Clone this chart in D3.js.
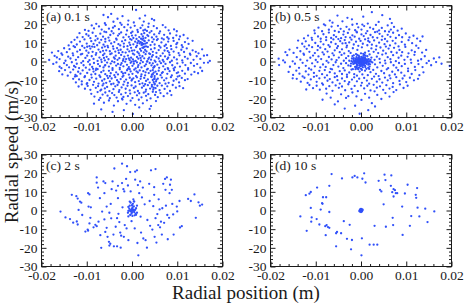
<!DOCTYPE html>
<html>
<head>
<meta charset="utf-8">
<script src="https://cdn.jsdelivr.net/npm/d3@7"></script>
<style>
  body { margin: 0; background: #fff; }
  svg { display: block; font-family: "Liberation Serif", "Times New Roman", serif; }
</style>
</head>
<body>
<svg id="chart" width="464" height="306"></svg>
<script>
// axis ticks
const xTicks = [-0.02, -0.01, 0, 0.01, 0.02];
const yTicks = [-30, -20, -10, 0, 10, 20, 30];
const panelLabels = ["(a) 0.1 s", "(b) 0.5 s", "(c) 2 s", "(d) 10 s"];

// [radial position in mm, radial speed in m/s]
const ptsA = [
  [-4.6,25.5],[0.9,27.6],[2.9,24.6],[-2.1,24.3],[-6.3,24.9],
  [4.4,22.8],[4.9,22.1],[-7.9,20.2],[-6.0,20.5],[-4.1,21.3],[-2.6,20.7],[1.7,23.1],[-3.2,22.9],[0.4,20.9],[2.6,21.4],[-5.3,23.7],[-0.8,21.9],[3.7,20.3],
  [-7.3,18.8],[-5.8,19.6],[0.6,19.1],[-1.7,18.4],[-9.6,16.4],[-8.4,17.7],[-6.7,17.1],[-4.5,16.2],[-3.8,18.9],[-2.9,17.3],[-1.1,16.6],[-0.3,18.2],[1.2,16.9],[2.3,19.4],[2.9,17.0],[3.6,18.5],[4.3,16.3],[5.5,17.8],[6.2,16.1],[7.4,18.3],[8.1,16.7],[9.3,17.2],[-5.1,17.6],[-8.9,19.3],[1.9,18.0],[3.3,16.4],[6.8,19.5],[-2.3,19.7],[0.1,16.0],[4.8,19.0],[-10.4,16.9],[-6.1,16.0],[-4.2,18.1],[9.9,16.2],[2.5,16.6],[-0.9,19.8],
  [-11.6,15.2],[-10.9,13.1],[-10.1,14.6],[-9.2,12.5],[-8.7,15.4],[-8.0,13.6],[-7.6,12.2],[-7.0,14.9],[-6.4,13.3],[-5.7,15.7],[-5.2,12.8],[-4.8,14.2],[-4.1,15.1],[-3.5,12.3],[-3.1,13.9],[-2.4,15.6],[-1.9,12.9],[-1.3,14.4],[-0.7,13.2],[-0.2,15.3],[0.3,12.6],[0.8,14.0],[1.3,15.8],[1.6,13.1],[2.0,12.2],[2.1,14.6],[2.4,13.5],[2.7,15.2],[3.0,12.7],[3.4,14.1],[3.9,15.5],[4.4,12.9],[4.9,14.5],[5.4,13.3],[6.0,15.1],[6.6,12.4],[7.1,14.3],[7.8,13.0],[8.4,15.0],[9.1,12.6],[9.8,14.0],[10.6,13.4],[11.4,14.2],[12.3,12.4],[-12.1,12.9],[-9.6,13.8],[-5.9,12.1],[-2.8,14.8],[0.0,13.9],[1.0,12.1],[2.5,12.4],[3.6,13.6],[5.7,12.0],[8.1,12.2],[-0.4,12.0],
  [-14.0,8.6],[-13.4,10.3],[-12.7,11.6],[-12.2,9.1],[-11.5,10.7],[-11.0,8.3],[-10.5,11.8],[-10.0,9.6],[-9.4,8.2],[-9.0,10.9],[-8.5,9.4],[-8.1,11.3],[-7.7,8.7],[-7.2,10.1],[-6.8,11.6],[-6.3,9.0],[-5.9,10.6],[-5.4,8.4],[-5.0,11.2],[-4.6,9.7],[-4.2,8.1],[-3.9,10.4],[-3.4,11.7],[-3.0,9.3],[-2.6,8.6],[-2.2,10.8],[-1.8,9.6],[-1.5,11.4],[-1.0,8.2],[-0.6,10.1],[-0.1,11.6],[0.3,9.2],[0.7,10.6],[1.1,8.5],[1.4,11.1],[1.7,9.7],[1.9,10.4],[2.1,8.9],[2.3,11.7],[2.6,9.4],[2.8,10.9],[3.1,8.1],[3.3,10.0],[3.7,11.3],[4.1,8.8],[4.5,10.5],[5.0,9.1],[5.5,11.5],[6.0,8.4],[6.5,10.2],[7.0,11.8],[7.5,9.0],[8.0,10.7],[8.6,8.3],[9.2,11.0],[9.8,9.3],[10.4,11.9],[11.0,8.7],[11.7,10.4],[12.5,9.4],[13.4,11.1],[-6.0,8.0],[-0.4,8.9],[4.8,11.9],[7.2,8.3],[-8.8,8.0],[2.2,9.9],[1.2,9.9],[-12.9,8.2],[10.0,10.0],
  [-16.3,5.6],[-15.6,4.3],[-15.0,7.1],[-14.4,5.0],[-13.8,6.6],[-13.1,4.4],[-12.6,7.7],[-12.1,5.3],[-11.5,6.2],[-11.0,4.1],[-10.5,7.3],[-10.1,5.8],[-9.6,4.7],[-9.2,6.9],[-8.7,5.2],[-8.3,7.8],[-7.9,4.5],[-7.4,6.4],[-7.0,5.1],[-6.6,7.4],[-6.1,4.2],[-5.7,6.0],[-5.3,7.6],[-4.9,5.5],[-4.5,4.3],[-4.1,6.8],[-3.7,5.3],[-3.3,7.2],[-2.9,4.6],[-2.5,6.3],[-2.1,5.0],[-1.8,7.9],[-1.4,4.8],[-1.0,6.5],[-0.6,5.4],[-0.2,7.3],[0.2,4.2],[0.5,6.0],[0.9,7.7],[1.2,5.1],[1.5,4.4],[1.8,6.7],[2.0,5.7],[2.3,7.4],[2.6,4.9],[2.9,6.2],[3.2,5.4],[3.5,7.8],[3.8,4.3],[4.2,6.5],[4.6,5.2],[5.0,7.1],[5.4,4.6],[5.9,6.1],[6.3,7.5],[6.8,4.4],[7.2,5.9],[7.7,7.2],[8.2,4.8],[8.7,6.6],[9.2,5.3],[9.8,7.6],[10.3,4.5],[10.9,6.3],[11.5,5.1],[12.1,7.0],[12.8,4.2],[13.4,6.0],[14.1,5.2],[14.7,4.4],[15.5,6.5],[-17.7,4.8],[-6.4,5.7],[0.0,5.8],[4.0,4.0],[-3.0,6.0],[2.7,7.9],[7.9,5.6],[-9.9,7.9],[11.2,7.7],
  [-18.3,0.8],[-17.1,3.0],[-16.6,2.2],[-16.0,1.3],[-15.4,3.6],[-14.7,0.4],[-14.1,2.6],[-13.6,1.6],[-13.0,3.3],[-12.4,0.9],[-11.9,2.3],[-11.3,3.8],[-10.8,0.2],[-10.3,1.9],[-9.9,3.1],[-9.4,0.7],[-8.9,2.8],[-8.5,1.4],[-8.0,3.6],[-7.6,0.3],[-7.2,2.1],[-6.8,1.0],[-6.4,3.4],[-6.0,0.6],[-5.6,2.5],[-5.2,1.2],[-4.8,3.9],[-4.4,0.1],[-4.0,2.2],[-3.6,3.1],[-3.2,0.9],[-2.8,1.8],[-2.4,3.5],[-2.0,0.4],[-1.7,2.6],[-1.3,1.3],[-0.9,3.2],[-0.5,0.7],[-0.2,2.0],[0.2,1.1],[0.5,3.7],[0.8,0.3],[1.1,2.4],[1.4,1.5],[1.7,3.3],[2.0,0.6],[2.3,2.8],[2.7,1.7],[3.0,3.9],[3.4,0.2],[3.8,2.1],[4.2,1.0],[4.6,3.4],[5.0,0.5],[5.4,2.4],[5.9,1.6],[6.3,3.0],[6.8,0.8],[7.3,2.7],[7.8,1.3],[8.3,3.5],[8.8,0.4],[9.3,2.2],[9.9,1.1],[10.5,3.3],[11.1,0.6],[11.7,2.5],[12.3,1.5],[12.9,3.6],[13.6,0.9],[14.3,2.8],[15.1,1.4],[15.9,3.1],[16.6,3.4],[17.2,0.3],[-0.7,1.6],[0.4,0.0],[1.9,1.9],[3.6,1.4],[-1.9,1.3],[4.4,2.6],[-3.8,1.5],[6.1,0.1],[-6.2,1.9],[8.0,2.0],
  [-17.4,-1.3],[-16.7,-0.5],[-16.0,-2.8],[-15.6,-3.6],[-15.0,-0.9],[-14.4,-1.9],[-13.9,-3.1],[-13.3,-0.4],[-12.8,-2.4],[-12.2,-1.2],[-11.7,-3.5],[-11.2,-0.7],[-10.7,-2.0],[-10.2,-3.3],[-9.7,-0.2],[-9.3,-1.6],[-8.8,-2.9],[-8.4,-0.8],[-7.9,-3.8],[-7.5,-1.4],[-7.1,-2.5],[-6.7,-0.3],[-6.3,-3.2],[-5.9,-1.9],[-5.5,-0.6],[-5.1,-2.7],[-4.7,-1.1],[-4.3,-3.6],[-3.9,-0.4],[-3.5,-2.2],[-3.1,-1.3],[-2.7,-3.4],[-2.3,-0.9],[-1.9,-2.6],[-1.5,-0.1],[-1.1,-1.8],[-0.7,-3.0],[-0.3,-0.7],[0.1,-2.3],[0.4,-1.2],[0.8,-3.7],[1.1,-0.5],[1.4,-2.0],[1.8,-1.0],[2.1,-3.2],[2.4,-0.3],[2.8,-2.4],[3.1,-1.5],[3.5,-3.9],[3.9,-0.8],[4.3,-2.1],[4.6,-1.0],[4.9,-3.0],[5.2,-0.2],[5.6,-1.7],[6.0,-3.4],[6.4,-0.9],[6.9,-2.6],[7.4,-1.3],[7.9,-3.5],[8.4,-0.4],[8.9,-2.0],[9.5,-3.1],[10.0,-1.0],[10.6,-2.7],[11.2,-0.6],[11.8,-1.9],[12.4,-3.6],[13.0,-0.8],[13.7,-2.3],[14.4,-1.4],[15.1,-3.3],[15.9,-0.7],[16.8,-0.6],[-0.1,-0.1],[1.3,-3.0],[-2.5,-1.8],[3.3,-0.1],[5.0,-2.5],[-6.0,-2.2],[7.0,-0.1],[-8.6,-3.9],[-12.5,-3.0],[9.2,-3.8],[-0.9,-3.9],
  [-16.1,-5.2],[-15.4,-6.9],[-14.8,-4.6],[-14.2,-7.6],[-13.6,-5.8],[-13.0,-4.3],[-12.5,-7.2],[-11.9,-5.5],[-11.4,-6.5],[-10.9,-4.8],[-10.4,-7.9],[-9.9,-6.1],[-9.4,-4.4],[-9.0,-7.0],[-8.5,-5.4],[-8.1,-6.7],[-7.6,-4.1],[-7.2,-7.5],[-6.8,-5.7],[-6.3,-4.9],[-5.9,-6.8],[-5.5,-7.7],[-5.1,-5.0],[-4.7,-6.3],[-4.3,-4.5],[-3.9,-7.3],[-3.5,-5.8],[-3.1,-6.9],[-2.7,-4.2],[-2.3,-5.6],[-1.9,-7.6],[-1.5,-6.1],[-1.1,-4.7],[-0.7,-7.0],[-0.3,-5.3],[0.1,-6.6],[0.5,-4.4],[0.9,-7.8],[1.3,-5.9],[1.7,-4.8],[2.1,-6.9],[2.5,-5.2],[2.9,-7.4],[3.3,-4.3],[3.7,-6.2],[4.1,-5.0],[4.4,-7.1],[4.6,-4.6],[4.8,-6.0],[5.0,-7.8],[5.2,-5.4],[5.5,-6.7],[5.9,-4.9],[6.3,-7.3],[6.8,-5.7],[7.3,-4.2],[7.8,-6.6],[8.3,-5.2],[8.8,-7.5],[9.3,-4.7],[9.9,-6.2],[10.5,-7.7],[11.1,-5.0],[11.7,-6.5],[12.4,-4.4],[13.1,-7.0],[13.8,-5.6],[14.6,-6.3],[15.5,-5.1],[-12.2,-7.8],[-0.5,-4.1],[3.0,-5.8],[6.6,-6.2],[-4.9,-7.9],[8.0,-4.0],[-8.0,-4.6],[1.0,-5.3],[-2.0,-6.4],[4.3,-8.0],[10.2,-5.8],
  [-13.0,-9.3],[-12.4,-11.2],[-11.7,-9.6],[-11.1,-10.7],[-10.5,-8.4],[-9.9,-11.6],[-9.4,-9.9],[-8.9,-8.6],[-8.4,-10.9],[-7.9,-9.2],[-7.4,-11.8],[-7.0,-8.3],[-6.6,-10.3],[-6.1,-9.5],[-5.7,-11.4],[-5.3,-8.9],[-4.9,-10.6],[-4.5,-9.1],[-4.1,-11.9],[-3.7,-8.4],[-3.3,-10.0],[-2.9,-11.3],[-2.5,-9.4],[-2.1,-8.2],[-1.7,-10.8],[-1.3,-9.7],[-0.9,-11.5],[-0.5,-8.7],[-0.1,-10.2],[0.3,-9.0],[0.7,-11.1],[1.1,-8.5],[1.5,-10.5],[1.9,-9.3],[2.3,-11.7],[2.7,-8.8],[3.1,-10.4],[3.5,-9.6],[3.9,-11.3],[4.3,-8.3],[4.6,-9.9],[4.8,-11.0],[5.0,-8.9],[5.3,-10.7],[5.7,-9.2],[6.1,-11.6],[6.6,-8.6],[7.1,-10.1],[7.6,-9.0],[8.1,-11.4],[8.6,-8.4],[9.2,-10.3],[9.8,-9.5],[10.4,-11.2],[11.0,-8.8],[11.7,-10.0],[12.3,-9.4],[-12.6,-8.1],[-6.3,-11.9],[0.0,-9.6],[4.9,-9.4],[2.0,-8.0],[-3.0,-10.9],[7.4,-11.9],[10.1,-8.1],
  [-11.8,-13.4],[-11.1,-12.3],[-10.4,-14.6],[-9.8,-13.1],[-9.2,-15.2],[-8.6,-12.5],[-8.0,-14.1],[-7.5,-13.2],[-7.0,-15.6],[-6.5,-12.8],[-6.0,-14.4],[-5.5,-13.6],[-5.0,-15.9],[-4.6,-12.2],[-4.1,-14.8],[-3.7,-13.3],[-3.2,-12.6],[-2.8,-15.3],[-2.3,-13.9],[-1.9,-12.4],[-1.4,-14.6],[-1.0,-13.0],[-0.5,-15.5],[-0.1,-12.8],[0.4,-14.2],[0.8,-13.4],[1.3,-15.8],[1.7,-12.1],[2.2,-14.0],[2.6,-13.1],[3.1,-15.1],[3.5,-12.7],[4.0,-14.5],[4.4,-13.5],[4.7,-15.0],[5.0,-12.3],[5.2,-14.3],[5.6,-13.0],[6.1,-15.4],[6.6,-12.9],[7.2,-14.7],[7.8,-13.3],[8.4,-15.8],[9.0,-12.6],[9.7,-14.0],[10.5,-13.2],[11.3,-14.3],[-10.0,-12.0],[2.9,-12.2],[-6.8,-15.1],
  [-9.0,-17.3],[-8.3,-18.8],[-7.6,-16.4],[-7.0,-19.5],[-6.5,-17.7],[-5.9,-16.6],[-5.4,-18.3],[-4.9,-19.7],[-4.4,-16.9],[-3.9,-18.0],[-3.4,-19.3],[-2.9,-16.3],[-2.4,-17.6],[-1.9,-19.0],[-1.4,-16.8],[-0.9,-18.5],[-0.4,-17.2],[0.1,-19.6],[0.6,-16.5],[1.1,-18.1],[1.6,-17.0],[2.1,-19.2],[2.6,-16.7],[3.1,-18.4],[3.6,-17.5],[4.1,-19.8],[4.6,-16.2],[5.1,-17.9],[5.7,-19.1],[6.3,-16.9],[7.0,-18.6],[7.8,-17.1],[8.7,-18.0],[-2.2,-19.9],[3.0,-16.1],
  [-7.3,-20.6],[-6.2,-22.1],[-5.1,-20.9],[-4.0,-23.6],[-3.1,-21.3],[-2.1,-20.4],[-1.2,-22.7],[-0.3,-21.0],[0.7,-23.2],[1.5,-20.5],[2.4,-22.4],[3.3,-20.8],[4.2,-23.9],[5.3,-21.2],[-8.4,-22.6],
  [-6.8,-25.7],[-4.3,-27.0],[-1.8,-26.1],[0.2,-28.1],[1.6,-24.6],[3.9,-25.4],
  // slightly denser streak near +5 mm and clump near +2 mm
  [4.7,-3.4],[4.6,-6.8],[5.4,-9.8],[5.0,-11.9],[4.8,-14.0],[5.3,-16.4],[4.4,-12.6],
  [2.3,9.1],[2.7,11.2],[2.5,7.3],[1.5,10.8],[3.0,9.6]
];

const ptsB = [
  [2.4,26.4],[-5.2,24.6],[0.5,24.0],[-6.9,21.9],[6.4,22.8],[-6.3,20.8],[-4.1,21.5],[-2.0,22.6],[1.5,20.3],[3.9,21.2],[6.8,20.6],[-0.9,20.2],[-3.0,23.4],[4.7,24.8],
  [-10.3,16.6],[-9.4,18.1],[-8.6,16.2],[-7.9,19.4],[-7.1,17.0],[-6.5,18.7],[-5.8,16.4],[-5.1,19.1],[-4.5,17.5],[-3.8,16.1],[-3.2,18.6],[-2.6,17.2],[-1.9,19.7],[-1.3,16.8],[-0.6,18.3],[0.1,17.1],[0.7,19.0],[1.4,16.3],[2.0,18.2],[2.7,17.4],[3.3,19.6],[4.0,16.7],[4.6,18.0],[5.3,16.2],[5.9,19.3],[6.6,17.1],[7.3,18.5],[8.1,16.5],[9.0,17.6],[-8.2,19.9],[3.6,16.0],[-1.0,16.0],[6.2,16.0],[0.3,19.8],
  [-12.6,12.4],[-11.7,13.9],[-10.9,12.7],[-10.2,15.1],[-9.5,13.4],[-8.9,12.2],[-8.3,14.6],[-7.7,13.0],[-7.1,15.5],[-6.6,12.6],[-6.0,14.1],[-5.5,13.2],[-4.9,15.8],[-4.4,12.5],[-3.9,14.4],[-3.4,13.1],[-2.9,15.3],[-2.4,12.8],[-1.9,14.0],[-1.4,13.3],[-0.9,15.6],[-0.4,12.2],[0.1,14.5],[0.6,13.6],[1.1,15.1],[1.6,12.4],[2.1,14.2],[2.6,13.0],[3.1,15.7],[3.6,12.7],[4.1,14.8],[4.7,13.5],[5.3,12.1],[5.9,14.3],[6.5,13.2],[7.1,15.4],[7.7,12.6],[8.4,14.1],[9.1,13.0],[9.9,15.0],[10.7,12.9],[11.6,13.8],[12.4,12.3],[13.6,13.4],[-5.0,12.0],
  [-13.9,11.2],[-13.0,9.5],[-12.2,10.8],[-11.5,8.6],[-10.8,11.6],[-10.1,9.9],[-9.5,8.3],[-8.9,10.7],[-8.3,9.2],[-7.7,11.4],[-7.2,8.8],[-6.6,10.3],[-6.1,11.8],[-5.6,9.4],[-5.1,8.2],[-4.6,10.9],[-4.1,9.7],[-3.6,11.5],[-3.1,8.5],[-2.6,10.2],[-2.1,11.7],[-1.6,9.1],[-1.1,10.6],[-0.6,8.4],[-0.1,11.0],[0.4,9.5],[0.9,11.9],[1.4,8.7],[1.9,10.4],[2.4,9.0],[2.9,11.3],[3.4,8.3],[4.0,10.1],[4.6,11.6],[5.2,9.3],[5.8,10.8],[6.4,8.6],[7.0,11.1],[7.6,9.7],[8.3,8.1],[9.0,10.5],[9.7,9.0],[10.5,11.4],[11.3,9.8],[12.2,8.5],[13.1,10.9],[-12.5,8.0],[1.6,11.0],[-3.4,9.8],[5.5,8.0],
  [-16.7,5.0],[-15.8,6.4],[-14.9,4.6],[-14.1,7.3],[-13.4,5.5],[-12.7,4.2],[-12.0,6.8],[-11.4,5.2],[-10.8,7.7],[-10.2,4.5],[-9.6,6.1],[-9.0,7.4],[-8.5,4.9],[-7.9,6.6],[-7.4,5.3],[-6.9,7.9],[-6.3,4.4],[-5.8,6.0],[-5.3,7.2],[-4.7,5.0],[-4.2,6.5],[-3.7,4.3],[-3.2,7.6],[-2.7,5.6],[-2.3,4.6],[2.3,7.0],[2.8,5.2],[3.3,6.4],[3.8,4.5],[4.3,7.5],[4.9,5.8],[5.5,4.3],[6.1,6.9],[6.7,5.1],[7.3,7.3],[7.9,4.7],[8.5,6.2],[9.1,5.0],[9.8,7.8],[10.5,4.4],[11.2,6.0],[11.9,5.1],[12.7,7.2],[13.5,4.8],[14.4,6.2],[-1.8,7.1],[1.7,5.6],[0.2,7.6],[-0.8,6.2],[0.9,4.7],
  [-18.2,1.5],[-17.2,0.6],[-16.3,3.4],[-15.1,0.1],[-14.2,2.3],[-13.4,1.0],[-12.6,3.6],[-11.9,0.5],[-11.2,2.0],[-10.6,3.2],[-10.0,0.8],[-9.4,2.7],[-8.8,1.3],[-8.2,3.8],[-7.6,0.3],[-7.1,2.4],[-6.5,1.1],[-6.0,3.3],[-5.4,0.7],[-4.9,2.1],[-4.3,3.5],[-3.8,0.4],[-3.3,1.8],[-2.8,2.9],[3.0,0.9],[3.5,2.6],[4.1,1.4],[4.7,3.7],[5.3,0.5],[5.9,2.3],[6.5,1.2],[7.1,3.4],[7.7,0.2],[8.3,2.0],[8.9,3.1],[9.6,0.9],[10.3,2.5],[11.0,1.0],[11.8,3.6],[12.6,0.4],[13.3,1.2],[14.1,2.8],[15.0,0.3],[16.1,1.6],[17.3,2.2],
  [-18.1,-1.9],[-16.8,-0.5],[-15.7,-2.8],[-14.6,-1.2],[-13.7,-3.4],[-12.9,-0.7],[-12.2,-2.3],[-11.5,-3.7],[-10.8,-1.0],[-10.2,-2.6],[-9.6,-0.3],[-9.0,-3.1],[-8.4,-1.6],[-7.8,-2.9],[-7.2,-0.6],[-6.7,-3.9],[-6.1,-1.9],[-5.6,-0.4],[-5.0,-2.7],[-4.4,-1.2],[-3.9,-3.5],[-3.3,-0.9],[-2.8,-2.1],[3.1,-1.5],[3.6,-3.2],[4.2,-0.6],[4.8,-2.3],[5.4,-1.0],[6.0,-3.6],[6.6,-0.4],[7.2,-2.0],[7.8,-3.3],[8.4,-0.8],[9.0,-2.5],[9.7,-1.3],[10.4,-3.8],[11.1,-0.7],[11.9,-2.9],[12.7,-1.4],[13.6,-3.0],[14.5,-0.9],[15.5,-2.0],[16.6,-0.3],[17.8,-1.2],[19.6,-2.4],
  [-16.0,-5.6],[-15.0,-7.2],[-14.3,-4.9],[-13.6,-6.5],[-12.9,-8.0],[-12.2,-5.3],[-11.6,-7.0],[-11.0,-4.4],[-10.4,-6.1],[-9.8,-7.7],[-9.2,-5.0],[-8.6,-6.8],[-8.0,-4.6],[-7.5,-7.4],[-6.9,-5.7],[-6.4,-4.2],[-5.8,-6.4],[-5.3,-7.9],[-4.7,-5.2],[-4.2,-6.7],[-3.6,-4.8],[-3.1,-7.1],[-2.6,-5.9],[-2.1,-4.3],[-1.5,-6.8],[-0.9,-7.6],[-0.3,-5.4],[0.3,-6.9],[0.9,-4.9],[1.5,-7.3],[2.1,-5.7],[2.7,-4.5],[3.3,-6.6],[3.9,-7.8],[4.5,-5.1],[5.1,-6.3],[5.7,-4.2],[6.3,-7.5],[6.9,-5.5],[7.5,-6.9],[8.2,-4.7],[8.9,-6.0],[9.6,-7.6],[10.4,-5.2],[11.2,-6.7],[12.0,-4.6],[12.9,-7.3],[13.8,-5.8],[-1.2,-4.1],[1.8,-4.0],
  [-14.2,-9.3],[-13.3,-10.8],[-12.5,-8.7],[-11.8,-11.5],[-11.1,-9.6],[-10.4,-8.2],[-9.8,-10.9],[-9.2,-9.0],[-8.6,-11.7],[-8.0,-8.6],[-7.4,-10.3],[-6.9,-9.4],[-6.3,-11.2],[-5.8,-8.4],[-5.2,-10.0],[-4.7,-11.8],[-4.2,-9.1],[-3.6,-10.5],[-3.1,-8.3],[-2.6,-11.1],[-2.0,-9.7],[-1.5,-8.5],[-0.9,-10.6],[-0.4,-9.2],[0.2,-11.4],[0.7,-8.8],[1.3,-10.2],[1.8,-11.9],[2.4,-9.3],[2.9,-8.1],[3.5,-10.8],[4.1,-9.5],[4.7,-11.3],[5.3,-8.6],[5.9,-10.1],[6.5,-9.0],[7.1,-11.6],[7.8,-8.4],[8.5,-10.4],[9.2,-9.1],[10.0,-11.0],[10.8,-8.7],[11.7,-10.1],[12.6,-9.3],[-15.1,-9.0],
  [-11.4,-12.6],[-10.6,-14.3],[-9.8,-13.0],[-9.1,-15.1],[-8.4,-12.4],[-7.7,-14.6],[-7.0,-13.2],[-6.3,-15.7],[-5.6,-12.8],[-4.9,-14.1],[-4.2,-13.4],[-3.5,-15.4],[-2.8,-12.2],[-2.1,-14.7],[-1.4,-13.1],[-0.7,-15.9],[0.0,-12.9],[0.7,-14.4],[1.4,-13.0],[2.1,-15.5],[2.8,-12.5],[3.5,-14.0],[4.2,-13.3],[4.9,-15.2],[5.6,-12.7],[6.3,-14.5],[7.0,-13.6],[7.8,-15.3],[8.6,-12.3],[9.4,-14.2],[10.3,-13.0],[-12.1,-15.0],[3.0,-16.0],
  [-7.6,-17.2],[-6.7,-19.4],[-5.1,-21.4],[-4.4,-17.6],[-3.3,-19.5],[-2.8,-18.6],[-1.9,-16.6],[-1.0,-18.7],[0.1,-20.6],[0.9,-17.3],[1.8,-19.4],[2.4,-22.3],[3.6,-17.9],[4.5,-20.1],[5.4,-16.9],[6.3,-18.8],[7.2,-16.4],[-8.5,-20.5],
  [-1.3,-23.7],[3.1,-24.1],[-0.3,-28.0],[-3.6,-25.2],[1.6,-26.1],[-5.8,-23.0],
  // dense core
  [0.0,0.0],[0.2,0.5],[-0.3,-0.4],[0.5,-0.8],[-0.6,0.9],[0.8,0.3],[-0.9,-0.2],[0.3,1.4],[-0.2,-1.5],[1.1,-0.6],[-1.2,0.6],[0.6,1.9],[-0.7,-1.9],[1.3,1.1],[-1.4,-1.0],[0.1,2.5],[-0.1,-2.6],[1.6,-1.7],[-1.6,1.8],[0.9,-2.3],[-1.0,2.3],[1.8,0.2],[-1.8,-0.3],[0.4,-3.1],[-0.5,3.2],[1.4,2.8],[-1.3,-2.9],[1.9,-2.7],[-1.9,2.9],[0.7,3.6],[-0.8,-3.7],[1.2,-3.9],[-1.1,4.0],[0.0,4.4],[0.2,-4.5],[-0.4,0.2],[0.4,-0.2],[0.0,-0.7],[-0.1,0.8],[0.7,-1.3],[-0.7,1.3],[1.0,0.9],[-1.0,-0.9],[0.5,0.0],[-0.5,0.0],[0.2,-1.0],[-0.2,1.1],[1.5,-0.2],[-1.5,0.2],[0.9,1.6],[-0.9,-1.6],[0.3,2.1],[-0.3,-2.2],[1.2,-1.2],[-1.2,1.2],[0.6,-2.0],[-0.6,2.0],[1.7,1.3],[-1.7,-1.3],[0.1,-0.1],[0.3,0.3],[-0.3,-0.1],[0.8,-0.4],[-0.8,0.4],[0.4,0.9],[-0.4,-0.9],[2.1,0.9],[-2.2,-1.1],[2.0,-1.5],[-2.0,1.6],[1.0,3.1],[-1.0,-3.2],[1.6,-3.4],[-1.6,3.3],[2.3,2.1],[-2.3,-2.4],[0.5,4.1],[-0.6,-4.2],[2.5,-0.5],[-2.6,0.4],[1.9,3.8],[-1.8,-4.1],[0.0,1.7],[0.0,-1.8],[1.3,0.0],[-1.3,0.0],[0.6,0.6],[-0.6,-0.6],[0.9,-0.9],[-0.9,0.9],
  [0.15,0.35],[-0.25,0.65],[0.45,-0.35],[-0.55,-0.75],[0.75,1.05],[-0.15,-1.25],[0.35,-1.65],[-0.45,1.55],[1.05,0.45],[-1.05,-0.45],[0.05,1.15],[0.65,-0.15],[-0.75,0.25],[1.25,-0.85],[-1.15,1.45],[0.25,-2.35],[-0.35,2.45],[0.85,2.25],[-0.95,-2.55],[1.45,0.65],[-1.35,-0.65],[0.55,3.05],[-0.45,-3.35],[1.75,-0.95],[-1.65,0.85],[0.95,-3.0],[-0.85,3.5],[2.2,-0.1],[-2.1,0.2],[0.0,-3.9]
];

const ptsC = [
  [-15.8,-0.6],[-14.7,-3.7],[-13.7,-4.6],[-13.3,8.4],[-12.3,7.7],[-12.0,6.4],[-12.2,-5.9],[-12.0,-7.5],[-11.5,4.8],[-11.2,4.2],[-11.8,0.3],[-11.0,-2.4],[-9.8,-10.2],[-9.7,-10.8],[-9.7,9.3],[-9.4,8.6],[-9.6,2.1],[-9.2,-3.9],[-9.1,1.7],[-9.4,-6.9],
  [-8.1,-7.7],[-7.8,-8.4],[-7.8,17.7],[-7.8,14.9],[-7.5,12.3],[-7.4,-6.0],[-7.1,6.6],[-7.0,-13.2],[-6.6,-0.6],[-6.3,15.6],[-5.9,14.7],[-6.1,9.3],[-6.1,-4.8],[-5.9,-11.5],[-5.6,2.1],[-5.6,-9.3],[-5.4,-14.1],[-5.1,-16.8],[-4.8,-17.8],[-5.0,-18.8],
  [-5.0,-1.2],[-4.7,3.5],[-4.6,-4.2],[-4.5,11.4],[-4.3,15.6],[-4.1,-12.9],[-4.0,-19.2],[-3.9,22.5],[-3.6,-8.7],[-3.5,10.7],[-3.3,-19.2],[-3.3,-4.1],[-3.1,13.2],[-3.1,6.6],[-2.8,-6.2],[-2.6,-11.8],[-2.5,-19.9],[-2.2,25.1],[-2.2,14.7],[-2.1,1.7],
  [-1.9,11.4],[-1.7,10.2],[-1.8,-14.1],[-1.6,-7.8],[-1.3,16.9],[-1.2,-9.6],[-1.1,23.7],[-0.9,13.4],[-0.8,-3.2],[-0.8,-15.9],[-0.5,4.8],[-0.4,20.6],[-0.3,10.2],[-0.1,-5.7],[0.3,6.0],[0.5,4.8],[0.6,-9.6],[0.7,20.8],[1.1,21.5],[0.7,16.5],
  [0.9,-2.3],[1.1,-1.2],[1.1,2.6],[1.2,-17.4],[1.3,13.6],[1.4,-24.0],[1.6,9.3],[1.8,15.6],[1.9,-3.3],[2.0,-11.8],[2.4,12.3],[2.5,-15.0],[2.8,3.3],[3.0,-15.9],[3.3,-19.9],[3.4,-5.1],[3.8,14.3],[3.9,5.1],[4.2,21.5],[4.5,-10.2],
  [4.7,2.3],[4.9,8.4],[4.9,12.5],[5.0,-14.1],[5.2,22.2],[5.2,-4.1],[5.4,-17.2],[5.6,-1.9],[5.8,-7.8],[5.9,6.0],[6.1,0.6],[6.4,-6.0],[6.6,-12.9],[6.7,1.2],[6.9,14.3],[7.1,-6.6],[7.3,16.9],[7.7,17.7],[7.4,11.1],[7.5,2.6],
  [7.8,-2.4],[7.9,-15.4],[8.2,-3.9],[8.3,9.3],[8.4,13.8],[8.6,16.5],[8.8,11.1],[8.9,3.5],[9.1,-2.1],[9.2,-12.9],[9.9,2.1],[10.5,5.1],[10.6,-9.1],[11.0,-8.4],[12.4,6.2],[13.0,5.1],[13.8,8.6],[14.1,-3.9],[14.7,4.4],[15.0,2.6],[15.5,3.2],
  [-10.3,-11.3],[-8.5,-9.0],[-6.8,-20.0],[-3.0,-1.8],[2.2,7.0],[6.2,-9.0],[-13.0,-6.5],[10.0,-0.5],[-2.4,-13.5],[4.0,-8.2],
  // dense core
  [0.0,0.0],[0.2,0.6],[-0.3,-0.5],[0.5,-0.9],[-0.6,1.0],[0.7,0.4],[-0.8,-0.2],[0.1,1.6],[-0.1,-1.7],[0.4,2.2],[-0.4,-2.4],[0.8,-1.8],[-0.8,1.9],[0.3,-0.2],[-0.2,0.3],[0.9,1.2],[-0.9,-1.2],[0.0,2.8],[0.1,-2.9],[-0.5,2.6],[0.6,-2.6],[0.2,3.6],[-0.3,4.2],[0.4,4.9],[0.0,-0.9],[0.0,0.9],[-0.5,0.0],[0.5,0.0]
];

const ptsD = [
  [-13.4,-3.2],[-12.2,8.2],[-11.4,9.0],[-11.1,9.9],[-12.0,-10.9],[-11.1,1.4],[-10.9,-3.7],[-11.0,-6.0],[-9.7,12.3],[-9.8,-4.6],[-9.2,-7.5],[-8.9,0.5],[-8.6,3.9],[-8.5,3.6],[-8.4,7.1],[-7.7,7.1],[-7.9,-8.4],[-7.6,-7.8],[-7.3,-8.9],[-7.0,-9.3],
  [-7.0,13.2],[-7.0,-0.8],[-7.8,-13.2],[-6.5,19.5],[-5.5,-12.2],[-5.3,-11.5],[-5.5,-19.2],[-4.4,-12.2],[-4.2,17.2],[-3.8,-5.7],[-3.1,-15.2],[-2.5,-7.7],[-2.2,-20.8],[-2.0,-15.8],[-1.9,17.7],[-1.4,18.5],[-0.8,17.7],[0.2,-14.9],[0.3,17.0],[0.7,19.9],
  [1.0,15.0],[0.1,-24.0],[1.9,-18.3],[2.8,-18.3],[3.6,-18.3],[3.0,-8.2],[3.9,15.9],[4.2,11.1],[4.5,10.2],[5.0,3.3],[5.2,19.2],[5.4,16.3],[5.5,-8.7],[6.6,13.2],[6.7,18.8],[6.9,9.8],[7.0,-3.9],[7.1,-7.8],[7.2,7.5],[7.2,11.4],
  [7.5,10.9],[7.7,9.3],[8.0,9.3],[9.1,2.1],[9.2,-13.1],[9.7,9.1],[10.3,13.8],[10.8,-8.2],[11.1,-3.0],[12.1,8.4],[12.2,6.8],[12.4,12.0],[12.5,1.5],[12.9,-3.2],[14.2,1.0],[14.7,-6.2],[16.2,-0.5],
  // particles piled at the centre
  [0.0,0.0],[0.3,0.0],[-0.3,0.0],[0.0,0.8],[0.0,-0.8],[0.2,0.6],[-0.2,-0.6],[0.2,-0.6],[-0.2,0.6],[0.35,0.4],[-0.35,-0.4]
];

// layout (pixels)
const W = 181, H = 112;
const lefts = [41.5, 270.5, 41.5, 270.5];
const tops = [5.5, 5.5, 154.5, 154.5];
const ink = "#1a1a1a";
const dotColor = "#3050fa";

const svg = d3.select("#chart");
const allPts = [ptsA, ptsB, ptsC, ptsD];

const x = d3.scaleLinear().domain([-0.02, 0.02]).range([0, W]);
const y = d3.scaleLinear().domain([-30, 30]).range([H, 0]);
const xMinor = d3.range(-0.02, 0.0201, 0.002).filter(v => !xTicks.some(t => Math.abs(t - v) < 1e-9));
const yMinor = d3.range(-30, 31, 2).filter(v => v % 10 !== 0);

allPts.forEach((pts, i) => {
  const g = svg.append("g").attr("transform", `translate(${lefts[i]},${tops[i]})`);

  // points
  g.append("g").selectAll("circle")
    .data(pts)
    .enter().append("circle")
    .attr("cx", d => x(d[0] / 1000))
    .attr("cy", d => y(d[1]))
    .attr("r", 1.15)
    .attr("fill", dotColor);

  // minor ticks on all sides
  const minorAxes = [
    [d3.axisBottom(x).tickValues(xMinor), `translate(0,${H})`],
    [d3.axisTop(x).tickValues(xMinor), null],
    [d3.axisLeft(y).tickValues(yMinor), null],
    [d3.axisRight(y).tickValues(yMinor), `translate(${W},0)`]
  ];
  minorAxes.forEach(([ax, tr]) => {
    const a = g.append("g").call(ax.tickSize(-2.5).tickFormat(""));
    if (tr) a.attr("transform", tr);
    a.select(".domain").remove();
    a.selectAll("line").attr("stroke", ink);
  });

  // major ticks + labels
  const xb = g.append("g").attr("transform", `translate(0,${H})`)
    .call(d3.axisBottom(x).tickValues(xTicks).tickSize(-5).tickPadding(4).tickFormat(d => d.toFixed(2)));
  const yl = g.append("g")
    .call(d3.axisLeft(y).tickValues(yTicks).tickSize(-5).tickPadding(4).tickFormat(d => String(d)));
  const xt = g.append("g").call(d3.axisTop(x).tickValues(xTicks).tickSize(-5).tickFormat(""));
  const yr = g.append("g").attr("transform", `translate(${W},0)`)
    .call(d3.axisRight(y).tickValues(yTicks).tickSize(-5).tickFormat(""));
  [xb, yl, xt, yr].forEach(a => {
    a.select(".domain").remove();
    a.selectAll("line").attr("stroke", ink);
    a.selectAll("text").attr("fill", ink).style("font-size", "13.5px")
      .style("font-family", '"Liberation Serif", "Times New Roman", serif');
  });

  // frame
  g.append("rect").attr("width", W).attr("height", H)
    .attr("fill", "none").attr("stroke", ink).attr("stroke-width", 1);

  g.append("text")
    .attr("x", 4.5).attr("y", 15.3)
    .attr("fill", ink)
    .style("font-size", "13.5px")
    .text(panelLabels[i]);
});

svg.append("text")
  .attr("x", 246).attr("y", 299)
  .attr("text-anchor", "middle")
  .attr("fill", ink)
  .style("font-size", "19px")
  .text("Radial position (m)");

svg.append("text")
  .attr("transform", "translate(18,152) rotate(-90)")
  .attr("text-anchor", "middle")
  .attr("fill", ink)
  .style("font-size", "19px")
  .text("Radial speed (m/s)");
</script>
</body>
</html>
